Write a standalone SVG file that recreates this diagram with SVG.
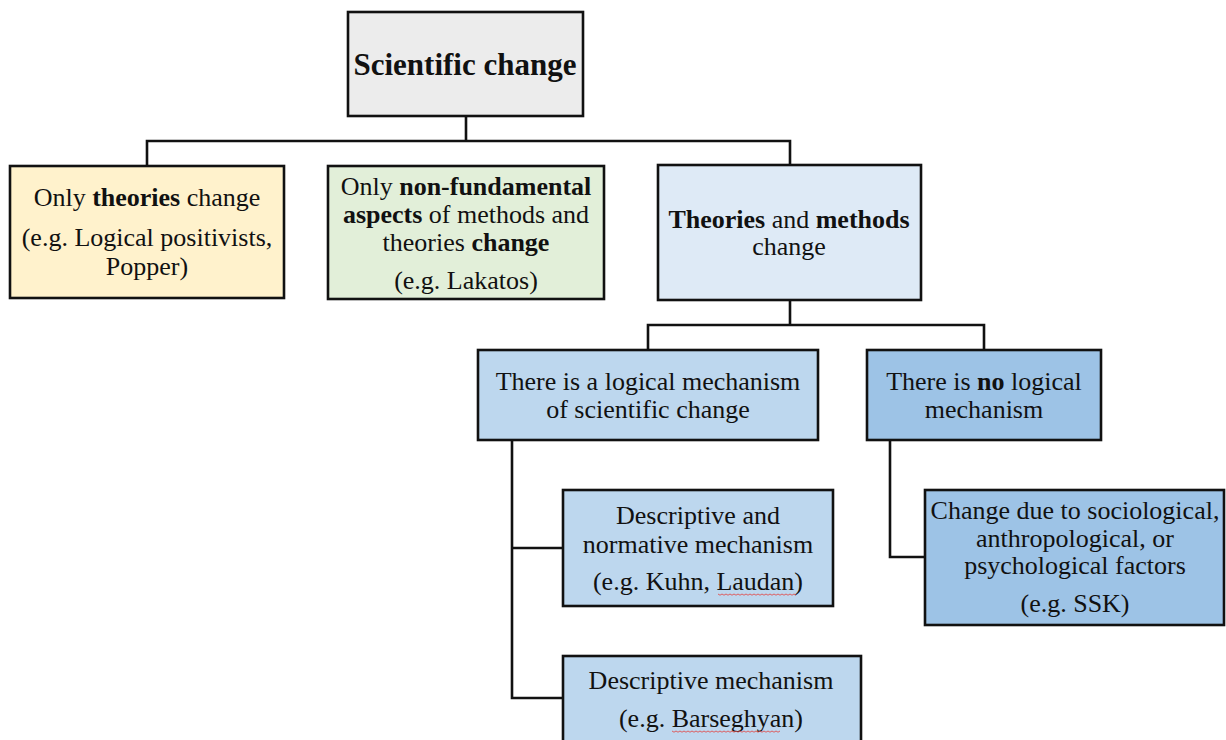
<svg xmlns="http://www.w3.org/2000/svg" width="1226" height="740" viewBox="0 0 1226 740">
  <style>
    .box { stroke: #111; stroke-width: 2.6; }
    .wire { fill: none; stroke: #111; stroke-width: 2.6; }
    text { font-family: "Liberation Serif", "Times New Roman", serif; font-size: 26px; fill: #111; text-anchor: middle; }
    .b { font-weight: bold; }
    .title { font-size: 31px; font-weight: bold; }
    .spell { fill: none; stroke: #e05050; stroke-width: 0.9; }
  </style>
  <rect width="1226" height="740" fill="#ffffff"/>

  <g id="connectors">
    <path class="wire" d="M466 116 V141 M147 165 V141 H790 V165"/>
    <path class="wire" d="M790 300 V325 M648 350 V325 H984 V350"/>
    <path class="wire" d="M512 440 V698 H563 M512 548 H563"/>
    <path class="wire" d="M890 440 V557 H925"/>
  </g>

  <g id="root">
    <rect class="box" x="348" y="12" width="235" height="104" fill="#ececec"/>
    <text class="title" x="465" y="75">Scientific change</text>
  </g>

  <g id="only-theories">
    <rect class="box" x="10" y="166" width="274" height="132" fill="#fff2cc"/>
    <text x="147" y="206">Only <tspan class="b">theories</tspan> change</text>
    <text x="147" y="246">(e.g. Logical positivists,</text>
    <text x="147" y="275">Popper)</text>
  </g>

  <g id="non-fundamental">
    <rect class="box" x="328" y="166" width="276" height="133" fill="#e2efd9"/>
    <text x="466" y="195">Only <tspan class="b">non-fundamental</tspan></text>
    <text x="466" y="223"><tspan class="b">aspects</tspan> of methods and</text>
    <text x="466" y="251">theories <tspan class="b">change</tspan></text>
    <text x="466" y="289">(e.g. Lakatos)</text>
  </g>

  <g id="theories-methods">
    <rect class="box" x="658" y="165" width="263" height="135" fill="#deeaf6"/>
    <text x="789" y="228"><tspan class="b">Theories</tspan> and <tspan class="b">methods</tspan></text>
    <text x="789" y="255">change</text>
  </g>

  <g id="logical-mechanism">
    <rect class="box" x="478" y="350" width="340" height="90" fill="#bdd7ee"/>
    <text x="648" y="390">There is a logical mechanism</text>
    <text x="648" y="418">of scientific change</text>
  </g>

  <g id="no-logical-mechanism">
    <rect class="box" x="867" y="350" width="234" height="90" fill="#9dc3e6"/>
    <text x="984" y="390">There is <tspan class="b">no</tspan> logical</text>
    <text x="984" y="418">mechanism</text>
  </g>

  <g id="descriptive-normative">
    <rect class="box" x="563" y="490" width="270" height="116" fill="#bdd7ee"/>
    <text x="698" y="524">Descriptive and</text>
    <text x="698" y="553">normative mechanism</text>
    <text x="698" y="590">(e.g. Kuhn, Laudan)</text>
    <path class="spell" d="M718 594 l2 1.2 l2 -1.2 l2 1.2 l2 -1.2 l2 1.2 l2 -1.2 l2 1.2 l2 -1.2 l2 1.2 l2 -1.2 l2 1.2 l2 -1.2 l2 1.2 l2 -1.2 l2 1.2 l2 -1.2 l2 1.2 l2 -1.2 l2 1.2 l2 -1.2 l2 1.2 l2 -1.2 l2 1.2 l2 -1.2 l2 1.2 l2 -1.2 l2 1.2 l2 -1.2 l2 1.2 l2 -1.2 l2 1.2 l2 -1.2 l2 1.2 l2 -1.2 l2 1.2 l2 -1.2 l2 1.2 l2 -1.2 l2 1.2"/>
  </g>

  <g id="descriptive">
    <rect class="box" x="563" y="656" width="298" height="90" fill="#bdd7ee"/>
    <text x="711" y="689">Descriptive mechanism</text>
    <text x="711" y="727">(e.g. Barseghyan)</text>
    <path class="spell" d="M672 731 l2 1.2 l2 -1.2 l2 1.2 l2 -1.2 l2 1.2 l2 -1.2 l2 1.2 l2 -1.2 l2 1.2 l2 -1.2 l2 1.2 l2 -1.2 l2 1.2 l2 -1.2 l2 1.2 l2 -1.2 l2 1.2 l2 -1.2 l2 1.2 l2 -1.2 l2 1.2 l2 -1.2 l2 1.2 l2 -1.2 l2 1.2 l2 -1.2 l2 1.2 l2 -1.2 l2 1.2 l2 -1.2 l2 1.2 l2 -1.2 l2 1.2 l2 -1.2 l2 1.2 l2 -1.2 l2 1.2 l2 -1.2 l2 1.2 l2 -1.2 l2 1.2 l2 -1.2 l2 1.2 l2 -1.2 l2 1.2 l2 -1.2 l2 1.2 l2 -1.2 l2 1.2 l2 -1.2 l2 1.2 l2 -1.2 l2 1.2 l2 -1.2"/>
  </g>

  <g id="sociological">
    <rect class="box" x="925" y="490" width="299" height="135" fill="#9dc3e6"/>
    <text x="1075" y="519">Change due to sociological,</text>
    <text x="1075" y="547">anthropological, or</text>
    <text x="1075" y="574">psychological factors</text>
    <text x="1075" y="612">(e.g. SSK)</text>
  </g>
</svg>
